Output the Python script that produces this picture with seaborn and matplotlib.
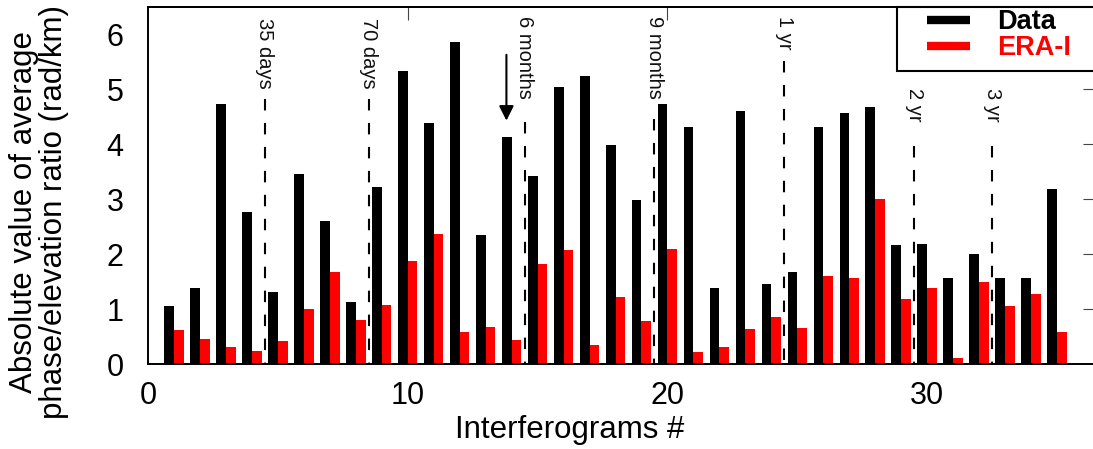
import numpy as np
import pandas as pd
import matplotlib
matplotlib.use("Agg")
import matplotlib.pyplot as plt
from matplotlib.lines import Line2D
from matplotlib.patches import Rectangle
import seaborn as sns

# values
interferograms = list(range(1, 36))
data_ratio = [1.05, 1.39, 4.73, 2.76, 1.31, 3.46, 2.61, 1.13, 3.22, 5.33,
              4.39, 5.86, 2.34, 4.14, 3.42, 5.04, 5.24, 3.99, 2.99, 4.73,
              4.31, 1.39, 4.61, 1.46, 1.68, 4.31, 4.57, 4.68, 2.17, 2.19,
              1.57, 2.01, 1.57, 1.57, 3.19]
era_ratio = [0.61, 0.46, 0.31, 0.23, 0.41, 1.01, 1.68, 0.81, 1.07, 1.88,
             2.37, 0.59, 0.68, 0.44, 1.82, 2.08, 0.35, 1.22, 0.79, 2.10,
             0.22, 0.31, 0.64, 0.86, 0.66, 1.61, 1.57, 3.01, 1.19, 1.39,
             0.11, 1.50, 1.06, 1.28, 0.58]
series_names = ["Data", "ERA-I"]

# time-span markers between interferogram groups
period_labels = ["35 days", "70 days", "6 months", "9 months", "1 yr", "2 yr", "3 yr"]
period_x = [4.5, 8.5, 14.5, 19.5, 24.5, 29.5, 32.5]
line_top = [4.82, 4.82, 4.4, 4.46, 5.52, 3.97, 3.97]
text_top = [6.3, 6.3, 6.33, 6.33, 6.33, 5.02, 5.02]

df = pd.DataFrame({
    "ifg": interferograms * 2,
    "value": data_ratio + era_ratio,
    "series": [series_names[0]] * len(data_ratio) + [series_names[1]] * len(era_ratio),
})

sns.set_style("white")
plt.rcParams["font.family"] = ["Liberation Sans", "DejaVu Sans"]
plt.rcParams["text.color"] = "black"
plt.rcParams["axes.labelcolor"] = "black"
plt.rcParams["xtick.labelcolor"] = "black"
plt.rcParams["ytick.labelcolor"] = "black"

fig = plt.figure(figsize=(10.93, 4.49), dpi=100)
ax = fig.add_axes([148 / 1093, 85 / 449, 948 / 1093, 357 / 449])

sns.barplot(data=df, x="ifg", y="value", hue="series", native_scale=True,
            width=0.75, palette=["black", "red"], saturation=1, errorbar=None,
            legend=False, linewidth=0, ax=ax)

# dashed separators (drawn top-down so the dashes start at the top) and labels
for lab, xv, lt, tt in zip(period_labels, period_x, line_top, text_top):
    ax.plot([xv, xv], [lt, 0], color="black", lw=1.5, linestyle=(0, (5.5, 6)), zorder=3)
    ax.text(xv, tt, lab, rotation=270, ha="center", va="top", fontsize=14.5, color="#111111")

ax.annotate("", xy=(13.8, 4.38), xytext=(13.8, 5.68),
            arrowprops=dict(arrowstyle="-|>", color="black", lw=1.5, mutation_scale=22))

ax.set_xlim(0, 36.5)
ax.set_ylim(0, 6.5)
ax.set_xticks([0, 10, 20, 30])
ax.set_yticks(range(0, 7))
ax.set_xticklabels(["0", "10", "20", "30"])
ax.set_yticklabels([str(v) for v in range(0, 7)])
ax.tick_params(axis="x", direction="out", length=9.5, width=0.8, color="#444444",
               labelsize=22, labelcolor="black", pad=3)
ax.tick_params(axis="y", direction="out", length=9.5, width=0.8, color="#444444",
               labelsize=22, labelcolor="black", pad=8)

# inward ticks on top and right
top = ax.secondary_xaxis("top")
top.set_xticks([10, 20, 30])
top.tick_params(direction="in", length=9.5, width=0.8, color="#444444", labeltop=False)
right = ax.secondary_yaxis("right")
right.set_yticks(range(1, 7))
right.tick_params(direction="in", length=9.5, width=0.8, color="#444444", labelright=False)

for sp in ax.spines.values():
    sp.set_color("black")
    sp.set_linewidth(1.4)
for s in [top, right]:
    for sp in s.spines.values():
        sp.set_color("black")
        sp.set_linewidth(1.4)

ax.set_xlabel("Interferograms #", fontsize=22.5)
ax.set_ylabel("Absolute value of average\nphase/elevation ratio (rad/km)", fontsize=22.5,
              linespacing=1.0)
ax.xaxis.set_label_coords(0.445, -0.142)
ax.yaxis.set_label_coords(-0.083, 0.426)

# legend with its own frame
box = Rectangle((897 / 1093, 1 - 71 / 449), 210 / 1093, 64 / 449, transform=fig.transFigure,
                facecolor="white", edgecolor="black", lw=1.5, zorder=4)
fig.add_artist(box)
handles = [Line2D([], [], color="black", lw=6, solid_capstyle="butt"),
           Line2D([], [], color="red", lw=6, solid_capstyle="butt")]
leg = fig.legend(handles, series_names, loc="upper left",
                 bbox_to_anchor=(927 / 1093, 1 - 9 / 449), bbox_transform=fig.transFigure,
                 frameon=False, prop={"weight": "bold", "size": 19.5}, handlelength=1.6,
                 handletextpad=1.0, labelspacing=0.0, borderpad=0, borderaxespad=0)
leg.set_zorder(5)
leg.get_texts()[0].set_color("black")
leg.get_texts()[1].set_color("red")

fig.savefig("out.png", dpi=100)
